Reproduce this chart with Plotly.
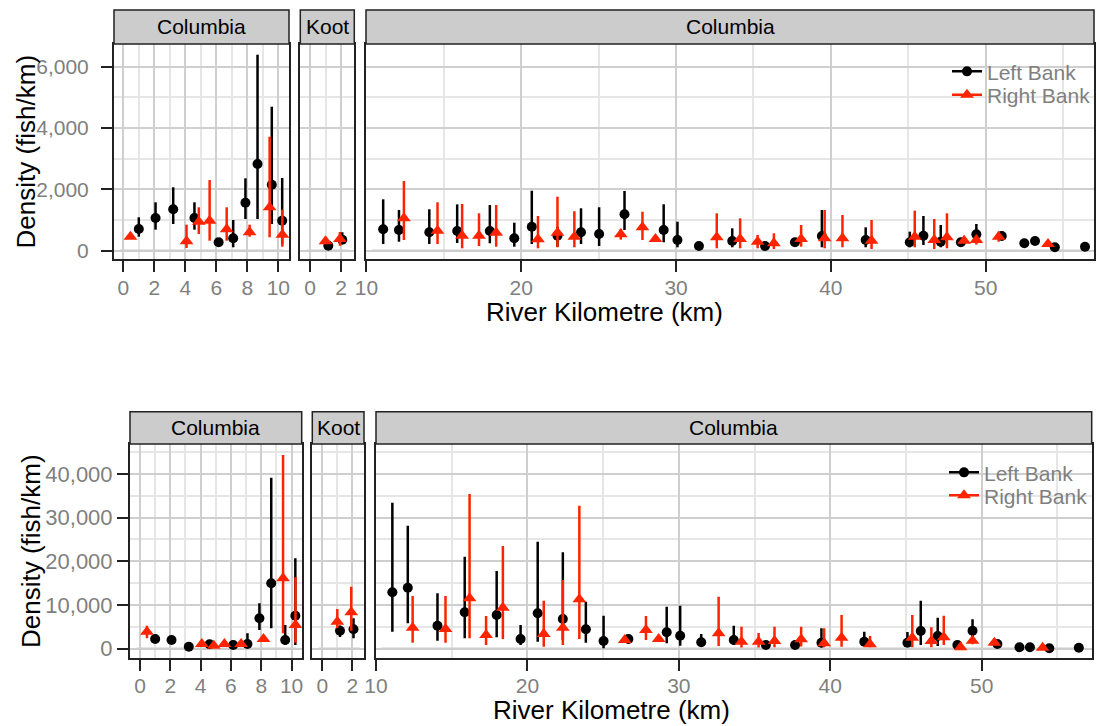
import plotly.graph_objects as go

W, H = 1096, 726

# ---------------- data ----------------
# site positions (river km) per facet and bank
col1_left_km = [1.0, 2.08, 3.22, 4.59, 6.15, 7.09, 7.88, 8.66, 9.58, 10.25]
col1_right_km = [0.46, 4.08, 4.87, 5.57, 6.67, 8.15, 9.44, 10.26]
koot_left_km = [1.18, 2.08]
koot_right_km = [1.0, 1.93]
col2_left_km = [11.08, 12.1, 14.06, 15.86, 17.97, 19.55, 20.68, 22.34, 23.86, 25.03,
                26.67, 29.2, 30.09, 31.48, 33.63, 35.75, 37.68, 39.42, 42.25, 45.1,
                45.98, 47.1, 48.4, 49.4, 51.04, 52.5, 53.19, 54.47, 56.42]
col2_right_km = [12.42, 14.59, 16.18, 17.27, 18.38, 21.08, 22.34, 23.43, 26.43, 27.83,
                 28.67, 32.63, 34.14, 35.27, 36.32, 38.08, 39.6, 40.75, 42.63, 45.42,
                 46.68, 47.5, 48.61, 49.4, 50.84, 54.03]

# extent of each river reach (drawn at density 0)
reach_start = [-0.22, -0.26, 10.33]
reach_end = [10.33, 2.5, 56.7]

# ---- top chart ----
a_col1_left = [707, 1066, 1349, 1066, 273, 404, 1565, 2826, 2152, 979]
a_col1_left_lo = [456, 685, 870, 685, 200, 111, 1033, 1033, 870, 218]
a_col1_left_hi = [1089, 1578, 2067, 1578, 370, 1000, 2360, 6390, 4694, 2370]
a_col1_right = [456, 306, 946, 979, 697, 600, 1415, 522]
a_col1_right_lo = [380, 88, 544, 326, 326, 456, 437, 130]
a_col1_right_hi = [540, 848, 1415, 2305, 1415, 848, 3716, 1337]
a_koot_left = [163, 359]
a_koot_left_lo = [120, 218]
a_koot_left_hi = [220, 600]
a_koot_right = [306, 381]
a_koot_right_lo = [230, 163]
a_koot_right_hi = [400, 610]
a_col2_left = [697, 675, 599, 642, 642, 404, 782, 489, 599, 544,
               1186, 675, 349, 153, 316, 153, 273, 479, 349, 273,
               489, 293, 273, 533, 479, 241, 316, 111, 130]
a_col2_left_lo = [218, 293, 218, 250, 241, 130, 218, 130, 218, 153,
                  675, 274, 111, 100, 111, 100, 180, 111, 111, 111,
                  186, 111, 200, 349, 380, 180, 250, 70, 80]
a_col2_left_hi = [1675, 1327, 1350, 1510, 1490, 913, 1956, 780, 1383, 1416,
                  1946, 1513, 946, 300, 730, 220, 400, 1327, 762, 620,
                  1131, 838, 350, 870, 620, 320, 390, 160, 200]
a_col2_right = [1055, 652, 489, 489, 587, 372, 587, 456, 533, 762,
                381, 437, 381, 293, 241, 381, 404, 404, 326, 456,
                349, 437, 326, 349, 456, 218]
a_col2_right_lo = [348, 218, 78, 153, 130, 78, 111, 111, 360, 348,
                   300, 78, 78, 78, 55, 130, 78, 111, 55, 111,
                   55, 78, 250, 200, 293, 150]
a_col2_right_hi = [2272, 1578, 1522, 1219, 1490, 1131, 1760, 1286, 717, 1271,
                   470, 1219, 1056, 512, 567, 838, 1327, 1164, 1000, 1305,
                   1033, 1219, 420, 500, 620, 290]

# ---- bottom chart ----
b_col1_left = [2220, 1990, 458, 1006, 847, 1075, 6955, 14963, 1990, 7550]
b_col1_left_lo = [1700, 1500, 300, 700, 600, 320, 4278, 4667, 847, 847]
b_col1_left_hi = [2800, 2500, 700, 1400, 1200, 3523, 10387, 39125, 5422, 20683]
b_col1_right = [3890, 1075, 686, 1075, 1075, 2220, 16107, 5422]
b_col1_right_lo = [2380, 700, 400, 700, 600, 1700, 3523, 1373]
b_col1_right_hi = [5262, 1500, 1000, 1500, 1700, 2800, 44320, 16336]
b_koot_left = [4118, 4439]
b_koot_left_lo = [2700, 2380]
b_koot_left_hi = [5300, 6955]
b_koot_right = [6178, 8328]
b_koot_right_lo = [4667, 4118]
b_koot_right_hi = [9083, 14186]
b_col2_left = [12900, 13960, 5262, 8328, 7710, 2220, 8100, 6795, 4440, 1762,
               2220, 3750, 2975, 1464, 1990, 847, 847, 1373, 1600, 1373,
               4050, 2905, 847, 4118, 1075, 320, 320, 92, 229]
b_col2_left_lo = [3890, 5810, 1830, 2380, 2608, 847, 1600, 2000, 1373, 92,
                  1700, 1235, 686, 847, 847, 500, 500, 320, 800, 600,
                  847, 618, 500, 1990, 700, 200, 200, 50, 100]
b_col2_left_hi = [33400, 28140, 12680, 21050, 17780, 5422, 24480, 22056, 10754, 7550,
                  3000, 9610, 9840, 3363, 5260, 1300, 1300, 4667, 3890, 3800,
                  10980, 7100, 1300, 6727, 1500, 500, 500, 200, 400]
b_col2_right = [4805, 4507, 11530, 3135, 9380, 3363, 4805, 11300, 1990, 4280,
                2220, 3523, 1600, 1600, 1760, 2150, 1235, 2517, 1006, 2517,
                1760, 2608, 320, 1830, 1373, 229]
b_col2_right_lo = [1373, 1373, 2380, 847, 2220, 458, 847, 2220, 1500, 1990,
                   1700, 618, 300, 300, 320, 500, 320, 458, 320, 320,
                   320, 847, 150, 1000, 900, 100]
b_col2_right_hi = [12060, 12060, 35390, 7480, 23500, 10980, 15720, 32720, 2700, 7480,
                   2800, 11900, 5000, 3600, 5030, 5030, 4667, 7710, 2905, 7710,
                   4900, 7550, 600, 2700, 2000, 400]

facet_labels = ["Columbia", "Koot", "Columbia"]
bank_names = ["Left Bank", "Right Bank"]
x_title = "River Kilometre (km)"
y_title = "Density (fish/km)"

x_tickvals = [[0, 2, 4, 6, 8, 10], [0, 2], [10, 20, 30, 40, 50]]
x_minorvals = [[1, 3, 5, 7, 9], [1], [15, 25, 35, 45, 55]]
a_y_tickvals = [0, 2000, 4000, 6000]
a_y_ticktext = ["0", "2,000", "4,000", "6,000"]
a_y_minorvals = [1000, 3000, 5000]
b_y_tickvals = [0, 10000, 20000, 30000, 40000]
b_y_ticktext = ["0", "10,000", "20,000", "30,000", "40,000"]
b_y_minorvals = [5000, 15000, 25000, 35000, 45000]

# ---------------- layout geometry (pixels) ----------------
rows = [
    dict(ypx=(44, 259), strip=(10, 44), yrange=(-271, 6739),
         ytv=a_y_tickvals, ytt=a_y_ticktext, ymv=a_y_minorvals, ystand=8, ytsize=21, xstand=-2,
         panels=[(114, 289, (-0.6, 10.69)), (300.3, 354.3, (-0.63, 2.86)), (366, 1094, (9.97, 57.0))],
         xtitle=(604, 312), ytitle=(25, 151.5), legend_x=947, legend_y=(71.7, 95),
         data=[
             ((col1_left_km, a_col1_left, a_col1_left_lo, a_col1_left_hi),
              (col1_right_km, a_col1_right, a_col1_right_lo, a_col1_right_hi)),
             ((koot_left_km, a_koot_left, a_koot_left_lo, a_koot_left_hi),
              (koot_right_km, a_koot_right, a_koot_right_lo, a_koot_right_hi)),
             ((col2_left_km, a_col2_left, a_col2_left_lo, a_col2_left_hi),
              (col2_right_km, a_col2_right, a_col2_right_lo, a_col2_right_hi)),
         ]),
    dict(ypx=(444, 658.3), strip=(411.7, 444), yrange=(-2197, 46836),
         ytv=b_y_tickvals, ytt=b_y_ticktext, ymv=b_y_minorvals, ystand=0, ytsize=22, xstand=-4,
         panels=[(130, 301.7, (-0.66, 10.67)), (312.3, 364, (-0.667, 2.78)), (376, 1091.7, (10.0, 57.27))],
         xtitle=(611, 710), ytitle=(31, 551), legend_x=944, legend_y=(472.7, 495.7),
         data=[
             ((col1_left_km, b_col1_left, b_col1_left_lo, b_col1_left_hi),
              (col1_right_km, b_col1_right, b_col1_right_lo, b_col1_right_hi)),
             ((koot_left_km, b_koot_left, b_koot_left_lo, b_koot_left_hi),
              (koot_right_km, b_koot_right, b_koot_right_lo, b_koot_right_hi)),
             ((col2_left_km, b_col2_left, b_col2_left_lo, b_col2_left_hi),
              (col2_right_km, b_col2_right, b_col2_right_lo, b_col2_right_hi)),
         ]),
]

FONT = "Liberation Sans, Arial, Helvetica, sans-serif"
GREY_TXT = "#7F7F7F"
BORDER = "#222222"
MAJOR = "#CFCFCF"
MINOR = "#E6E6E6"
COLORS = ["#000000", "#FF2400"]
SYMBOLS = ["circle", "triangle-up"]
SIZES = [10, 12]

fig = go.Figure()
layout = dict(
    width=W, height=H, margin=dict(l=0, r=0, t=0, b=0, autoexpand=False),
    paper_bgcolor="white", plot_bgcolor="white",
    font=dict(family=FONT, size=21, color="black"),
    shapes=[], annotations=[],
)


def px2x(p):
    return p / W


def px2y(p):
    return 1 - p / H


legend_count = 0
for r, row in enumerate(rows):
    y0, y1 = row["ypx"]
    for p, (xl, xr, xrange) in enumerate(row["panels"]):
        i = r * 3 + p + 1
        xname = "xaxis" if i == 1 else f"xaxis{i}"
        yname = "yaxis" if i == 1 else f"yaxis{i}"
        xref = "x" if i == 1 else f"x{i}"
        yref = "y" if i == 1 else f"y{i}"
        layout[xname] = dict(
            domain=[px2x(xl), px2x(xr)], range=list(xrange), anchor=yref,
            tickmode="array", tickvals=x_tickvals[p], ticks="outside", ticklen=11,
            tickwidth=2, tickcolor=BORDER, tickfont=dict(size=21, color=GREY_TXT),
            ticklabelstandoff=row["xstand"], automargin=False,
            showgrid=True, gridcolor=MAJOR, gridwidth=2,
            minor=dict(tickmode="array", tickvals=x_minorvals[p], showgrid=True,
                       gridcolor=MINOR, gridwidth=1.5, ticks=""),
            showline=True, mirror=True, linecolor=BORDER, linewidth=2,
            zeroline=False, fixedrange=True,
        )
        ydict = dict(
            domain=[px2y(y1), px2y(y0)], range=list(row["yrange"]), anchor=xref,
            tickmode="array", tickvals=row["ytv"], ticktext=row["ytt"],
            showgrid=True, gridcolor=MAJOR, gridwidth=2, automargin=False,
            minor=dict(tickmode="array", tickvals=row["ymv"], showgrid=True,
                       gridcolor=MINOR, gridwidth=1.5, ticks=""),
            showline=True, mirror=True, linecolor=BORDER, linewidth=2,
            zeroline=False, fixedrange=True,
        )
        if p == 0:
            ydict.update(ticks="outside", ticklen=11, tickwidth=2, tickcolor=BORDER,
                         tickfont=dict(size=row["ytsize"], color=GREY_TXT),
                         ticklabelstandoff=row["ystand"])
        else:
            ydict.update(ticks="", showticklabels=False)
        layout[yname] = ydict

        # strip
        s0, s1 = row["strip"]
        layout["shapes"].append(dict(
            type="rect", xref="paper", yref="paper",
            x0=px2x(xl), x1=px2x(xr), y0=px2y(s1), y1=px2y(s0),
            fillcolor="#CCCCCC", line=dict(color=BORDER, width=1.5), layer="above"))
        layout["annotations"].append(dict(
            xref="paper", yref="paper", x=px2x((xl + xr) / 2), y=px2y((s0 + s1) / 2),
            text=facet_labels[p], showarrow=False, xanchor="center", yanchor="middle",
            font=dict(size=21, color="black")))

        # reach extent line at zero
        fig.add_trace(go.Scatter(
            x=[reach_start[p], reach_end[p]], y=[0, 0], mode="lines",
            line=dict(color="#CDCDCD", width=2.5), xaxis=xref, yaxis=yref,
            showlegend=False, hoverinfo="skip"))

        for b in range(2):
            xs, v, lo, hi = row["data"][p][b]
            fig.add_trace(go.Scatter(
                x=xs, y=v, mode="markers", xaxis=xref, yaxis=yref,
                name=bank_names[b], showlegend=False,
                marker=dict(color=COLORS[b], symbol=SYMBOLS[b], size=SIZES[b], line=dict(width=0)),
                error_y=dict(type="data", symmetric=False,
                             array=[h - m for h, m in zip(hi, v)],
                             arrayminus=[m - l for m, l in zip(v, lo)],
                             width=0, thickness=2.5, color=COLORS[b]),
            ))

    # legend entries for this row (one legend box per entry for exact spacing)
    for b in range(2):
        legend_count += 1
        lname = "legend" if legend_count == 1 else f"legend{legend_count}"
        fig.add_trace(go.Scatter(
            x=[None], y=[None], mode="lines+markers", name=bank_names[b],
            xaxis="x3" if r == 0 else "x6", yaxis="y3" if r == 0 else "y6",
            line=dict(color=COLORS[b], width=2.5),
            marker=dict(color=COLORS[b], symbol=SYMBOLS[b], size=SIZES[b]),
            legend=lname, showlegend=True))
        layout[lname] = dict(
            x=px2x(row["legend_x"]), y=px2y(row["legend_y"][b]),
            xanchor="left", yanchor="middle",
            bgcolor="rgba(0,0,0,0)", borderwidth=0, itemwidth=30,
            font=dict(size=21, color=GREY_TXT, family=FONT))

    # axis titles
    tx, ty = row["xtitle"]
    layout["annotations"].append(dict(
        xref="paper", yref="paper", x=px2x(tx), y=px2y(ty), text=x_title,
        showarrow=False, xanchor="center", yanchor="middle",
        font=dict(size=26, color="black")))
    tx, ty = row["ytitle"]
    layout["annotations"].append(dict(
        xref="paper", yref="paper", x=px2x(tx), y=px2y(ty), text=y_title,
        showarrow=False, xanchor="center", yanchor="middle", textangle=-90,
        font=dict(size=26, color="black")))

fig.update_layout(**layout)
fig.write_html("out.html")
